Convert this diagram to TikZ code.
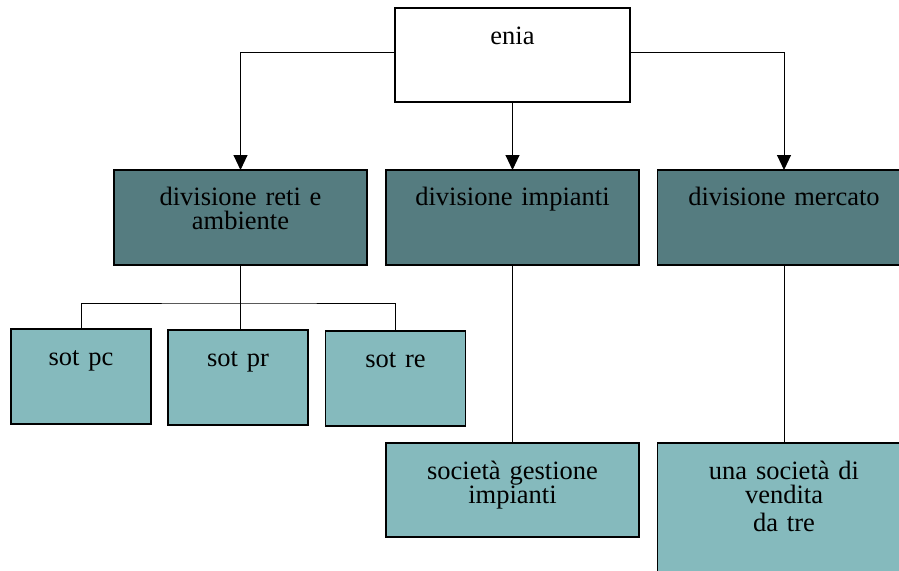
\documentclass[tikz,border=0pt]{standalone}
\usepackage{fontspec}
\setmainfont{Liberation Serif}
\usepackage{xcolor}
\definecolor{divteal}{RGB}{85,124,128}
\definecolor{sotteal}{RGB}{133,186,189}
\usepackage{tikz}
\usetikzlibrary{positioning}
\usetikzlibrary{arrows.meta}

\begin{document}
\begin{tikzpicture}[x=1pt,y=-1pt,
every node/.style={draw,line width=1.5pt,inner sep=0pt,outer sep=0pt,anchor=north,align=center,font={\fontsize{26.5}{24}\selectfont}},
divbox/.style={fill=divteal,text width=253pt,text height=35pt,text depth=60pt},
sotbox/.style={fill=sotteal,text width=140pt,text height=36pt,text depth=59pt},
socbox/.style={fill=sotteal,text width=253pt,text height=36pt,text depth=58pt},
link/.style={line width=1pt},
arr/.style={line width=1pt,-{Triangle[width=14pt,length=15pt]}}]
\useasboundingbox (0,0) rectangle (899,570);
\clip (0,0) rectangle (899,570);
% top and divisions
\node[fill=white,text width=235pt,text height=36pt,text depth=58pt] (enia) at (512.5,8) {enia};
\node[divbox] (reti) at (240.5,170) {divisione reti e\\ambiente};
\node[divbox] (impianti) at (512.5,170) {divisione impianti};
\node[divbox] (mercato) at (784,170) {divisione mercato};
% companies
\node[sotbox] (pc) at (81,329) {sot pc};
\node[sotbox] (pr) at (238,330) {sot pr};
\node[sotbox] (re) at (395.5,331) {sot re};
\node[socbox] (gestione) at (512.5,443) {società gestione\\impianti};
\node[socbox,text depth=100pt] (vendita) at (784,443) {una società di\\vendita\\[4pt]da tre};
% connectors
\draw[arr] ([yshift=3pt]enia.west) -| (reti.north);
\draw[arr] (enia.south) -- (impianti.north);
\draw[arr] ([yshift=3pt]enia.east) -| (mercato.north);
\coordinate (fork) at (240,303);
\draw[link] (reti.south) -- (reti.south |- pr.north);
\draw[link] (pc.north) |- (fork) -| (re.north);
\draw[link] (impianti.south) -- (gestione.north);
\draw[link] (mercato.south) -- (vendita.north);
\end{tikzpicture}
\end{document}
